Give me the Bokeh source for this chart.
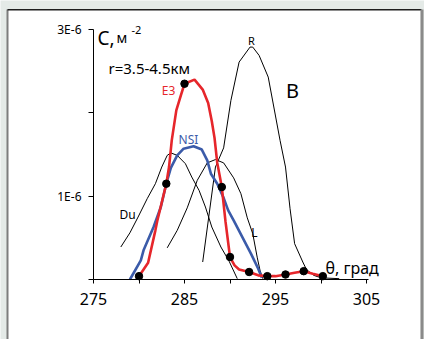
from bokeh.plotting import figure
from bokeh.models import Range1d, FixedTicker, Label, BoxAnnotation
from bokeh.embed import file_html
from bokeh.resources import INLINE

# ---------------- data (theta in degrees, C in units of 1E-6 m^-2) ----------------
du_theta = [278.0, 279.0, 279.9, 280.9, 281.8, 282.5, 283.1, 283.5, 284.2, 285.1, 285.8, 286.6, 287.3, 288.0, 289.0, 289.9, 290.8]
du_c     = [0.39, 0.56, 0.75, 0.97, 1.15, 1.35, 1.49, 1.52, 1.49, 1.39, 1.23, 1.07, 0.87, 0.63, 0.39, 0.22, 0.01]

l_theta = [283.1, 284.2, 285.3, 286.4, 287.5, 288.4, 289.3, 290.4, 291.2, 291.9, 292.5, 293.0, 293.3, 293.6]
l_c     = [0.38, 0.59, 0.86, 1.19, 1.40, 1.44, 1.40, 1.22, 1.03, 0.74, 0.55, 0.26, 0.11, 0.01]

r_theta = [287.0, 288.4, 289.3, 290.1, 291.0, 292.2, 292.5, 293.2, 294.2, 295.5, 296.1, 296.6, 297.1, 298.0, 298.4, 299.2, 300.0, 302.0]
r_c     = [0.21, 1.35, 1.58, 2.15, 2.61, 2.79, 2.79, 2.69, 2.43, 1.67, 1.35, 0.85, 0.43, 0.21, 0.12, 0.05, 0.02, 0.01]

nsi_theta = [279.0, 280.2, 280.5, 281.6, 282.4, 283.0, 283.5, 284.2, 284.9, 286.0, 286.9, 287.5, 287.9, 288.6, 289.3, 289.8, 290.4, 291.4, 292.3, 293.1, 293.5]
nsi_c     = [0.0, 0.23, 0.35, 0.63, 0.87, 1.15, 1.34, 1.49, 1.57, 1.60, 1.56, 1.43, 1.27, 1.15, 0.98, 0.83, 0.71, 0.50, 0.31, 0.13, 0.02]

e3_theta = [280.0, 281.0, 281.8, 282.0, 283.0, 283.3, 283.6, 284.1, 284.6, 285.0, 286.1, 287.0, 287.6, 288.0, 288.3, 288.6, 289.1, 289.5, 290.0, 290.5, 291.0, 292.1, 293.1, 294.1, 295.0, 296.1, 297.1, 298.1, 299.1, 300.2]
e3_c     = [0.04, 0.2, 0.59, 0.70, 1.15, 1.35, 1.67, 2.03, 2.21, 2.35, 2.40, 2.28, 2.12, 1.90, 1.70, 1.40, 1.11, 0.70, 0.27, 0.17, 0.12, 0.09, 0.05, 0.04, 0.04, 0.06, 0.08, 0.10, 0.07, 0.04]

e3_dot_theta = [280.0, 283.0, 285.0, 289.1, 290.0, 292.1, 294.1, 296.1, 298.1, 300.2]
e3_dot_c     = [0.04, 1.15, 2.35, 1.11, 0.27, 0.09, 0.04, 0.06, 0.10, 0.04]

x_ticks = [275, 280, 285, 290, 295, 300, 305]
x_tick_labels = ["275", "", "285", "", "295", "", "305"]
y_ticks = [0, 1, 2, 3]
y_tick_labels = ["", "1E-6", "", "3E-6"]

# ---------------- layout helpers (pixel -> data) ----------------
W, H = 424, 339
PX_X = 9.1        # pixels per degree
PX_Y = 83.3       # pixels per 1E-6
X_ORIGIN_PX, Y_ORIGIN_PX = 93, 279


def X(px):
    return 275 + (px - X_ORIGIN_PX) / PX_X


def Y(py):
    return (Y_ORIGIN_PX - py) / PX_Y


FONT = "Noto Sans"
RED = "#e6262b"
BLUE = "#3b5ba9"

p = figure(width=W, height=H, x_range=Range1d(X(0), X(W)), y_range=Range1d(Y(H), Y(0)),
           min_border=0, toolbar_location=None, output_backend="svg",
           outline_line_color=None)
p.background_fill_color = "#e4eae7"
p.border_fill_color = "#e4eae7"
p.grid.visible = False

# panel
p.add_layout(BoxAnnotation(left=X(7), right=X(420), top=Y(9), bottom=None,
                           fill_color="white", fill_alpha=1, line_color=None, level="underlay"))
p.add_layout(BoxAnnotation(left=X(6), right=X(8), top=Y(9), bottom=None,
                           fill_color="#7d7d7d", fill_alpha=1, line_color=None, level="underlay"))
p.add_layout(BoxAnnotation(left=X(7), right=X(421), top=Y(8.5), bottom=Y(10),
                           fill_color="#1e1e1e", fill_alpha=1, line_color=None, level="underlay"))
p.add_layout(BoxAnnotation(left=X(420), right=X(423), top=Y(9), bottom=None,
                           fill_color="#8a8a8a", fill_alpha=1, line_color=None, level="underlay"))

# axes
for ax in (p.xaxis[0], p.yaxis[0]):
    ax.axis_line_color = "black"
    ax.axis_line_width = 1
    ax.major_tick_line_color = "black"
    ax.major_tick_in = 0
    ax.minor_tick_line_color = None
    ax.major_label_text_font = FONT
    ax.major_label_text_color = "black"

p.xaxis.fixed_location = 0
p.xaxis.bounds = (275, 305.2)
p.xaxis.ticker = FixedTicker(ticks=x_ticks)
p.xaxis.major_label_overrides = dict(zip(x_ticks, x_tick_labels))
p.xaxis.major_tick_out = 4
p.xaxis.major_label_standoff = 9
p.xaxis.major_label_text_font_size = "16px"

p.yaxis.fixed_location = 275
p.yaxis.bounds = (0, 3)
p.yaxis.ticker = FixedTicker(ticks=y_ticks)
p.yaxis.major_label_overrides = dict(zip(y_ticks, y_tick_labels))
p.yaxis.major_tick_out = 5
p.yaxis.major_label_standoff = 7
p.yaxis.major_label_text_font_size = "12px"

# curves
p.line(du_theta, du_c, line_color="black", line_width=1)
p.line(l_theta, l_c, line_color="black", line_width=1)
p.line(r_theta, r_c, line_color="black", line_width=1)
p.line(nsi_theta, nsi_c, line_color=BLUE, line_width=2.6)
p.line(e3_theta, e3_c, line_color=RED, line_width=2.6)
p.scatter(e3_dot_theta, e3_dot_c, size=7.5, fill_color="black", line_color="black")


def lab(px, py, text, size, color="black", align="center", baseline="middle"):
    p.add_layout(Label(x=X(px), y=Y(py), text=text, text_font=FONT, text_font_size=size,
                       text_color=color, text_align=align, text_baseline=baseline))


lab(97, 37, "C,", "19px", align="left", baseline="alphabetic")
lab(116, 37, "м", "14px", align="left", baseline="alphabetic")
lab(131, 29, "-2", "11px", align="left", baseline="alphabetic")
lab(108, 67, "r=3.5-4.5км", "15px", align="left", baseline="alphabetic")
lab(292, 90, "В", "20px")
lab(325, 267, "θ, град", "16px", align="left", baseline="alphabetic")
lab(251, 40, "R", "11px")
lab(168, 90, "E3", "12px", color=RED)
lab(188, 139, "NSI", "12px", color=BLUE)
lab(127, 214, "Du", "12px")
lab(254, 232, "L", "12px")

open("out.html", "w").write(file_html(p, INLINE))
